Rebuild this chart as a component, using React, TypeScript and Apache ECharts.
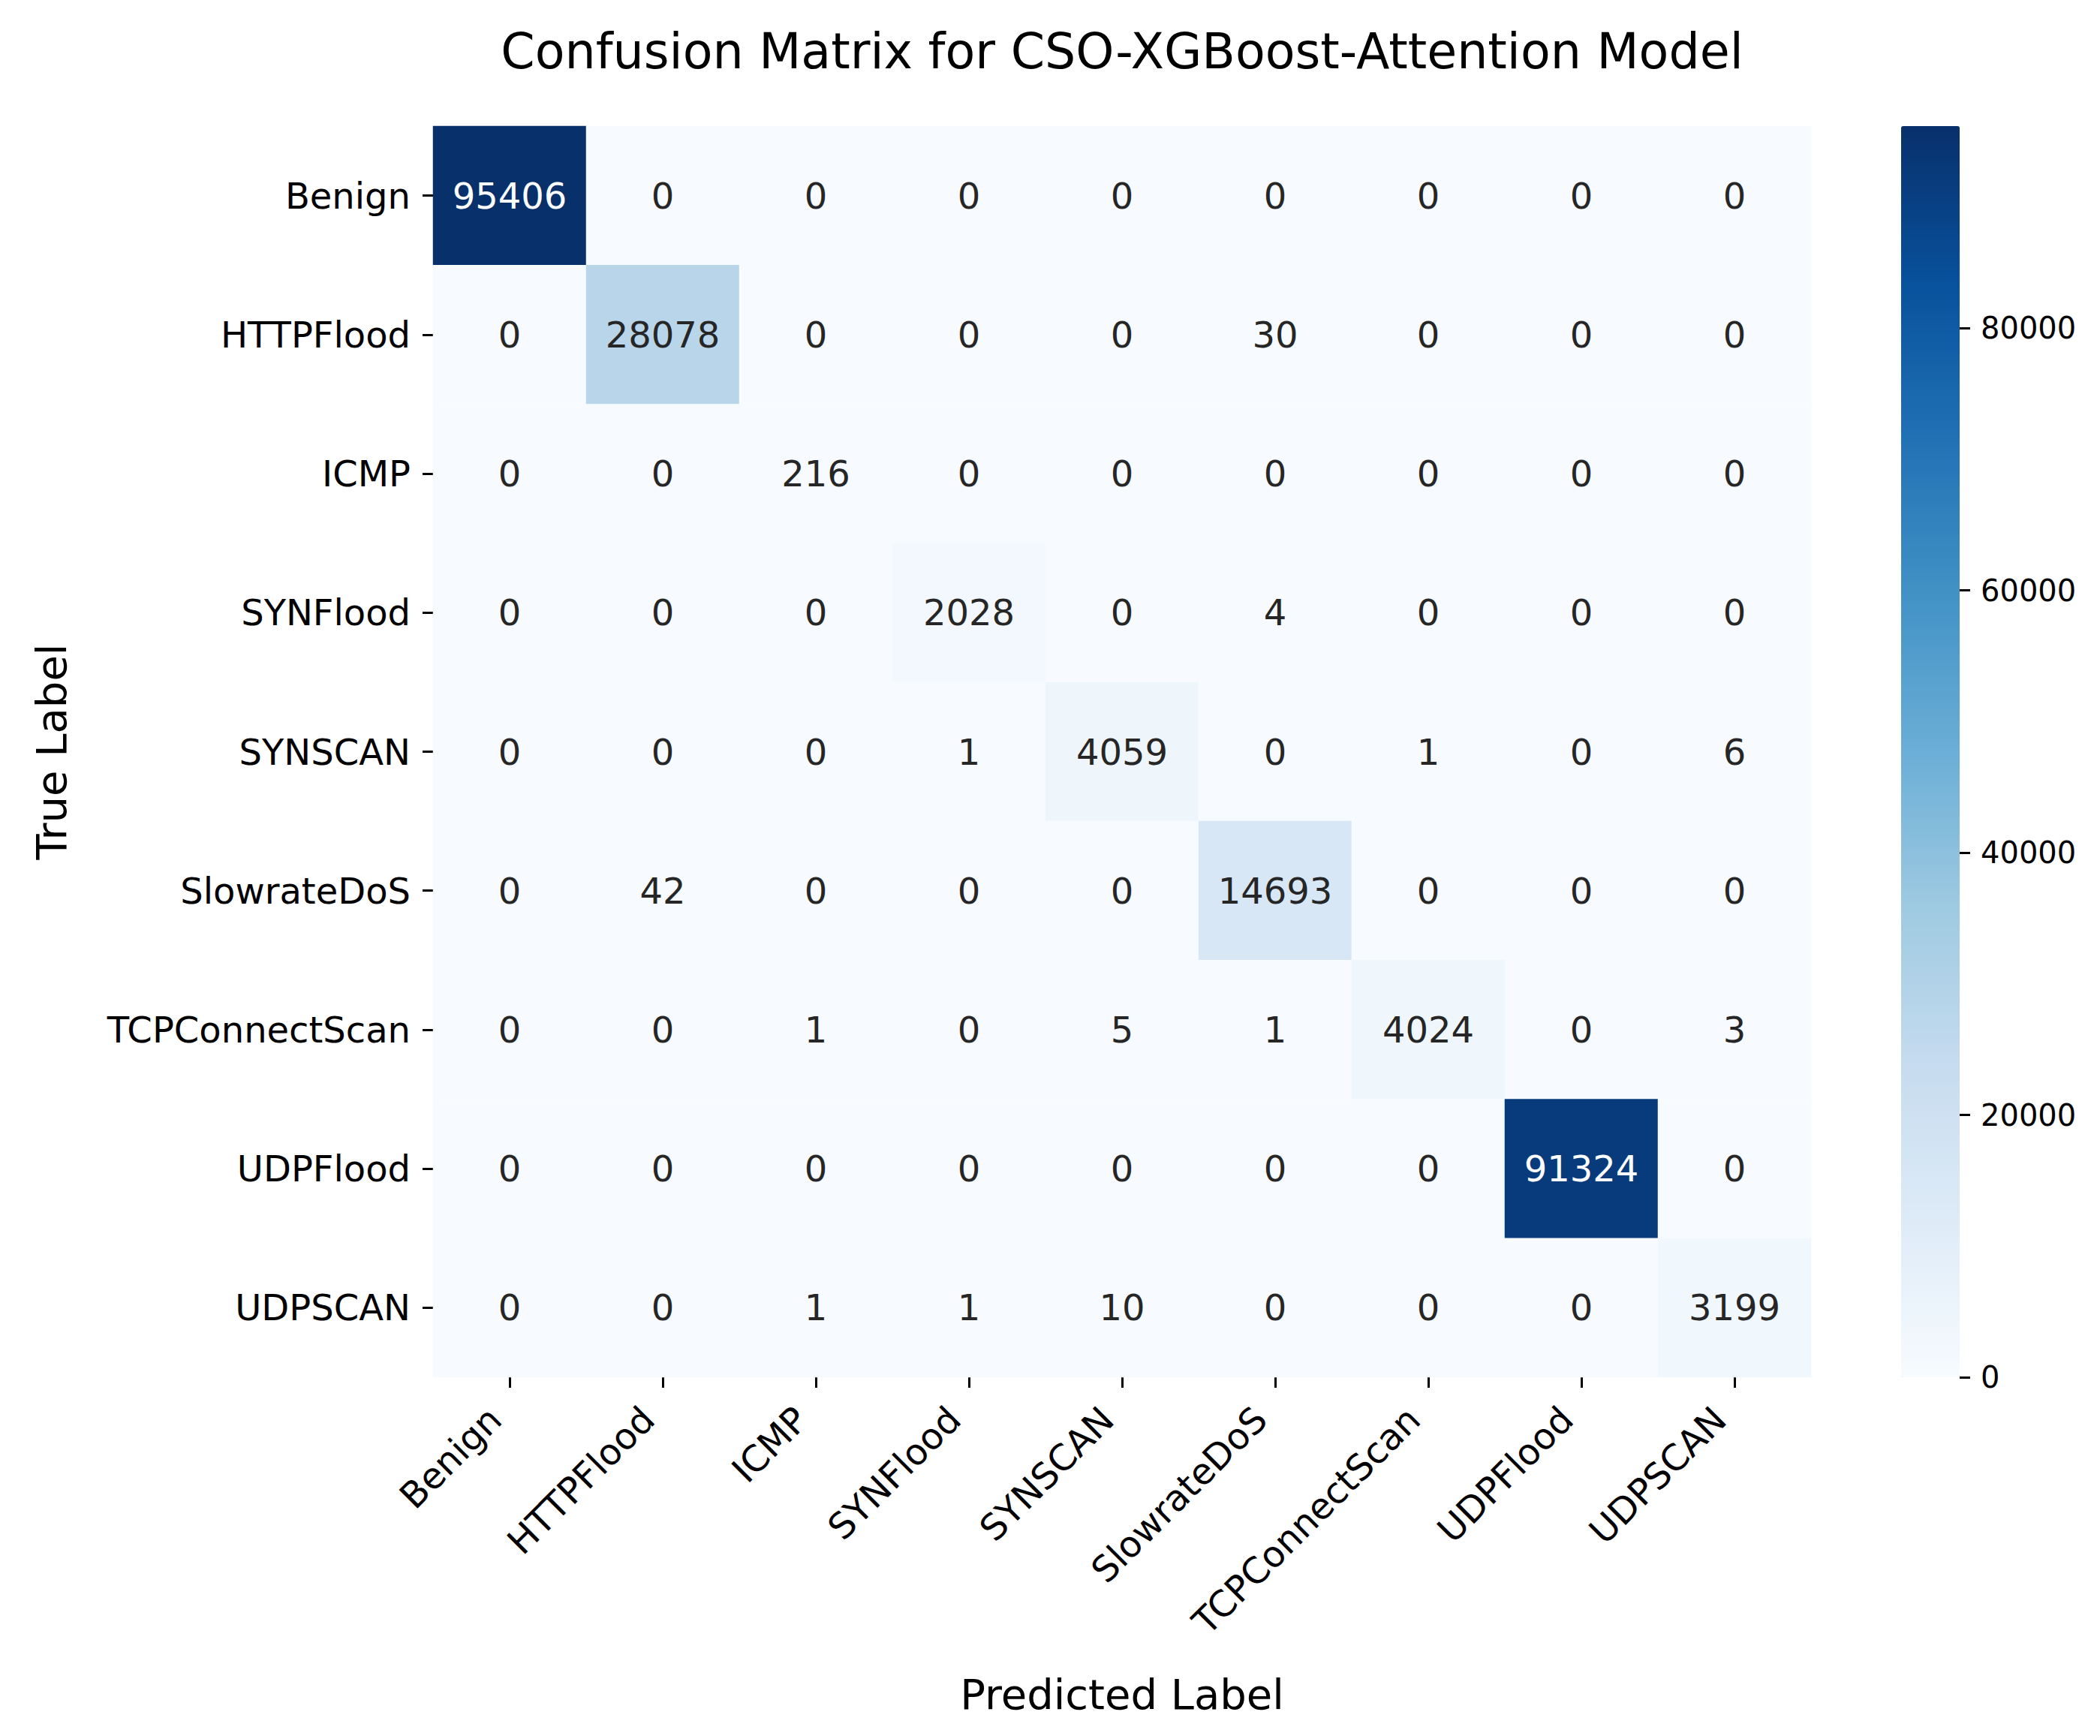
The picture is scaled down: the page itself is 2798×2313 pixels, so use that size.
import React, { useEffect, useRef } from "react";
import * as echarts from "echarts";

// ---------- data ----------
const CLASSES = [
  "Benign",
  "HTTPFlood",
  "ICMP",
  "SYNFlood",
  "SYNSCAN",
  "SlowrateDoS",
  "TCPConnectScan",
  "UDPFlood",
  "UDPSCAN",
];

// rows = true label, columns = predicted label
const TRUE_BENIGN = [95406, 0, 0, 0, 0, 0, 0, 0, 0];
const TRUE_HTTPFLOOD = [0, 28078, 0, 0, 0, 30, 0, 0, 0];
const TRUE_ICMP = [0, 0, 216, 0, 0, 0, 0, 0, 0];
const TRUE_SYNFLOOD = [0, 0, 0, 2028, 0, 4, 0, 0, 0];
const TRUE_SYNSCAN = [0, 0, 0, 1, 4059, 0, 1, 0, 6];
const TRUE_SLOWRATEDOS = [0, 42, 0, 0, 0, 14693, 0, 0, 0];
const TRUE_TCPCONNECTSCAN = [0, 0, 1, 0, 5, 1, 4024, 0, 3];
const TRUE_UDPFLOOD = [0, 0, 0, 0, 0, 0, 0, 91324, 0];
const TRUE_UDPSCAN = [0, 0, 1, 1, 10, 0, 0, 0, 3199];

const MATRIX = [
  TRUE_BENIGN,
  TRUE_HTTPFLOOD,
  TRUE_ICMP,
  TRUE_SYNFLOOD,
  TRUE_SYNSCAN,
  TRUE_SLOWRATEDOS,
  TRUE_TCPCONNECTSCAN,
  TRUE_UDPFLOOD,
  TRUE_UDPSCAN,
];

const COLORBAR_TICKS = [0, 20000, 40000, 60000, 80000];
const VALUE_MIN = 0;
const VALUE_MAX = 95406;

const TITLE = "Confusion Matrix for CSO-XGBoost-Attention Model";
const X_TITLE = "Predicted Label";
const Y_TITLE = "True Label";

// matplotlib "Blues"
const BLUES = [
  "#f7fbff",
  "#deebf7",
  "#c6dbef",
  "#9ecae1",
  "#6baed6",
  "#4292c6",
  "#2171b5",
  "#08519c",
  "#08306b",
];

// ---------- layout ----------
const W = 2798;
const H = 2313;
const GRID_LEFT = 577;
const GRID_TOP = 168;
const GRID_W = 1836;
const GRID_H = 1667;
const CBAR_LEFT = 2533;
const CBAR_W = 78;
const FONT = "'DejaVu Sans', sans-serif";

function hexToRgb(h: string): number[] {
  const n = parseInt(h.slice(1), 16);
  return [((n >> 16) & 255) / 255, ((n >> 8) & 255) / 255, (n & 255) / 255];
}

function cmap(t: number): number[] {
  const s = Math.max(0, Math.min(1, t)) * (BLUES.length - 1);
  const i = Math.min(BLUES.length - 2, Math.floor(s));
  const f = s - i;
  const a = hexToRgb(BLUES[i]);
  const b = hexToRgb(BLUES[i + 1]);
  return a.map((v, k) => v + (b[k] - v) * f);
}

function textColorFor(v: number): string {
  const rgb = cmap((v - VALUE_MIN) / (VALUE_MAX - VALUE_MIN)).map((c) =>
    c <= 0.03928 ? c / 12.92 : Math.pow((c + 0.055) / 1.055, 2.4)
  );
  const lum = 0.2126 * rgb[0] + 0.7152 * rgb[1] + 0.0722 * rgb[2];
  return lum > 0.408 ? "#262626" : "#ffffff";
}

export default function App() {
  const ref = useRef<HTMLDivElement>(null);

  useEffect(() => {
    document.body.style.margin = "0";
    if (!ref.current) return;
    const chart = echarts.init(ref.current, undefined, { renderer: "svg" });

    const data: any[] = [];
    MATRIX.forEach((row, y) => {
      row.forEach((v, x) => {
        data.push({
          value: [x, y, v],
          label: { color: textColorFor(v) },
        });
      });
    });

    const tickStyle = { show: true, length: 14, inside: false, lineStyle: { color: "#000", width: 3 } };

    const option: any = {
      animation: false,
      backgroundColor: "#ffffff",
      textStyle: { fontFamily: FONT },
      grid: [
        { left: GRID_LEFT, top: GRID_TOP, width: GRID_W, height: GRID_H },
        { left: CBAR_LEFT, top: GRID_TOP, width: CBAR_W, height: GRID_H },
      ],
      xAxis: [
        {
          type: "category",
          gridIndex: 0,
          data: CLASSES,
          position: "bottom",
          axisLine: { show: false },
          axisTick: { ...tickStyle, alignWithLabel: true, interval: 0 },
          splitLine: { show: false },
          axisLabel: {
            interval: 0,
            rotate: 45,
            fontSize: 48,
            fontFamily: FONT,
            color: "#000",
            margin: 28,
            padding: [0, 28, 0, 0],
          },
        },
        {
          type: "category",
          gridIndex: 1,
          show: false,
          data: [""],
        },
      ],
      yAxis: [
        {
          type: "category",
          gridIndex: 0,
          data: CLASSES,
          inverse: true,
          axisLine: { show: false },
          axisTick: { ...tickStyle, alignWithLabel: true, interval: 0 },
          splitLine: { show: false },
          axisLabel: {
            interval: 0,
            fontSize: 48,
            fontFamily: FONT,
            color: "#000",
            margin: 30,
          },
        },
        {
          type: "value",
          gridIndex: 1,
          position: "right",
          z: 10,
          min: VALUE_MIN,
          max: VALUE_MAX,
          axisLine: { show: false, onZero: false },
          splitLine: { show: false },
          axisTick: { ...tickStyle, customValues: COLORBAR_TICKS },
          axisLabel: {
            customValues: COLORBAR_TICKS,
            fontSize: 40,
            fontFamily: FONT,
            color: "#000",
            margin: 28,
            formatter: (v: number) => String(v),
          },
        },
      ],
      visualMap: {
        type: "continuous",
        seriesIndex: 0,
        min: VALUE_MIN,
        max: VALUE_MAX,
        orient: "vertical",
        left: CBAR_LEFT,
        top: GRID_TOP,
        itemWidth: CBAR_W,
        itemHeight: GRID_H,
        padding: 0,
        calculable: false,
        hoverLink: false,
        text: null,
        inRange: { color: BLUES },
      },
      graphic: [
        {
          type: "text",
          x: GRID_LEFT + GRID_W / 2,
          y: 68,
          style: {
            text: TITLE,
            fontSize: 65,
            fontFamily: FONT,
            fill: "#000",
            align: "center",
            verticalAlign: "middle",
            textAlign: "center",
            textVerticalAlign: "middle",
          },
        },
        {
          type: "text",
          x: GRID_LEFT + GRID_W / 2,
          y: 2257,
          style: {
            text: X_TITLE,
            fontSize: 56,
            fontFamily: FONT,
            fill: "#000",
            align: "center",
            verticalAlign: "middle",
            textAlign: "center",
            textVerticalAlign: "middle",
          },
        },
        {
          type: "text",
          x: 68,
          y: GRID_TOP + GRID_H / 2,
          rotation: Math.PI / 2,
          style: {
            text: Y_TITLE,
            fontSize: 56,
            fontFamily: FONT,
            fill: "#000",
            align: "center",
            verticalAlign: "middle",
            textAlign: "center",
            textVerticalAlign: "middle",
          },
        },
      ],
      series: [
        {
          type: "heatmap",
          xAxisIndex: 0,
          yAxisIndex: 0,
          data,
          itemStyle: { borderWidth: 0 },
          label: {
            show: true,
            fontSize: 48,
            fontFamily: FONT,
            formatter: (p: any) => String(p.value[2]),
          },
          emphasis: { disabled: true },
        },
      ],
    };

    chart.setOption(option);
    return () => chart.dispose();
  }, []);

  return <div ref={ref} style={{ width: W, height: H }} />;
}
